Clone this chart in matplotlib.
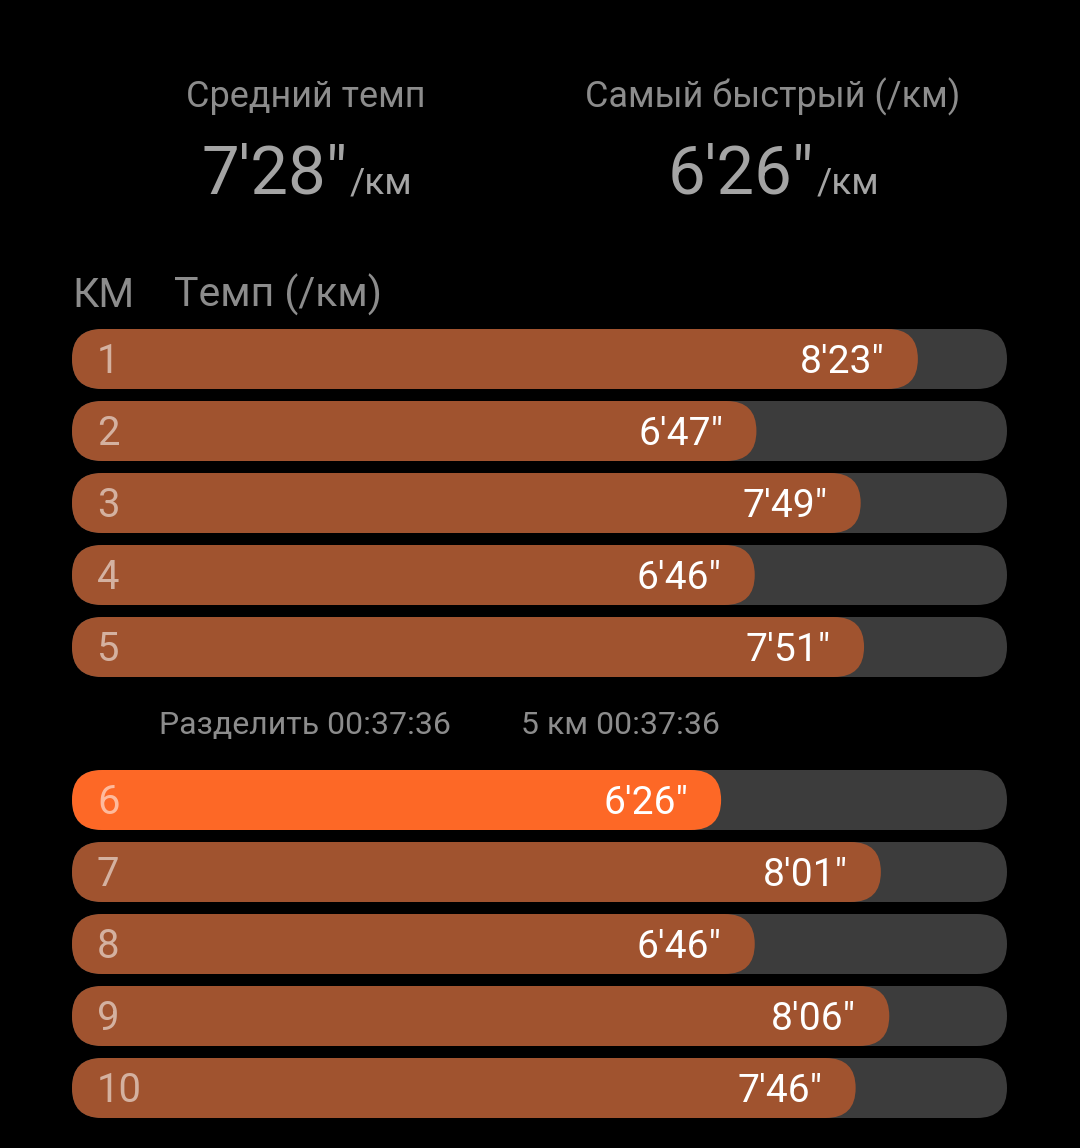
import matplotlib
matplotlib.use("Agg")
import matplotlib.pyplot as plt
from matplotlib.patches import FancyBboxPatch

plt.rcParams['font.family'] = ['Roboto', 'DejaVu Sans']

# Data
km_labels = ["1", "2", "3", "4", "5", "6", "7", "8", "9", "10"]
pace_text = ["8'23\"", "6'47\"", "7'49\"", "6'46\"", "7'51\"",
             "6'26\"", "8'01\"", "6'46\"", "8'06\"", "7'46\""]
pace_sec = [503, 407, 469, 406, 471, 386, 481, 406, 486, 466]
track_max = 556  # full grey track length, seconds
fastest_idx = 5

avg_pace = "7'28\""
best_pace = "6'26\""
split_left = "Разделить 00:37:36"
split_right = "5 км 00:37:36"

BG = "#000000"
TRACK = "#3c3c3c"
BAR = "#a0532f"
BAR_HI = "#fd6826"
GREY = "#8c8c8c"

W, H, DPI = 1080, 1148, 100
fig = plt.figure(figsize=(W / DPI, H / DPI), dpi=DPI, facecolor=BG)

# background axes in pixel coords for the header texts
bg = fig.add_axes([0, 0, 1, 1])
bg.set_xlim(0, W)
bg.set_ylim(H, 0)
bg.axis("off")
bg.set_facecolor(BG)

def pt(px):
    return px * 72 / DPI

# summary header
bg.text(306, 97, "Средний темп", color=GREY, fontsize=pt(36), ha="center", va="center")
bg.text(773, 97, "Самый быстрый (/км)", color=GREY, fontsize=pt(36), ha="center", va="center")
bg.text(201, 194, avg_pace, color="#a4a4a4", fontsize=pt(67), ha="left", va="baseline")
bg.text(350, 193, "/км", color="#a4a4a4", fontsize=pt(37), ha="left", va="baseline")
bg.text(668, 194, best_pace, color="#a4a4a4", fontsize=pt(67), ha="left", va="baseline")
bg.text(817, 193, "/км", color="#a4a4a4", fontsize=pt(37), ha="left", va="baseline")

# column headers
bg.text(72, 307, "КМ", color=GREY, fontsize=pt(41), ha="left", va="baseline")
bg.text(174, 307, "Темп (/км)", color=GREY, fontsize=pt(41), ha="left", va="baseline")

# split line
bg.text(159, 734, split_left, color=GREY, fontsize=pt(32), ha="left", va="baseline")
bg.text(521, 734, split_right, color=GREY, fontsize=pt(32), ha="left", va="baseline")

# bar axes: x in seconds, y in rows (72 px per row)
left_px, right_px = 72, 1007
top_px, bot_px = 329, 1118
ax = fig.add_axes([left_px / W, 1 - bot_px / H, (right_px - left_px) / W, (bot_px - top_px) / H])
ax.axis("off")
ax.patch.set_alpha(0)

row_px = 72.0
bar_h = 60 / row_px
gap_rows = (153 - 72) / row_px
ypos = [i if i < 5 else i + gap_rows for i in range(len(pace_sec))]
ax.set_xlim(0, track_max)
ax.set_ylim(ypos[-1] + bar_h / 2, -bar_h / 2)

px_per_sec = (right_px - left_px) / track_max
radius = 30 / px_per_sec           # rounding in x units
aspect = (30 / row_px) / radius    # y units per x unit

def rounded(x0, y, w, color):
    p = FancyBboxPatch((x0, y - bar_h / 2), w, bar_h,
                       boxstyle=f"round,pad=0,rounding_size={radius}",
                       mutation_aspect=aspect, facecolor=color, edgecolor="none")
    ax.add_patch(p)

for i, (y, sec) in enumerate(zip(ypos, pace_sec)):
    rounded(0, y, track_max, TRACK)
    color = BAR_HI if i == fastest_idx else BAR
    rounded(0, y, sec, color)
    ax.annotate(km_labels[i], xy=(0, y), xytext=(25, -14), textcoords="offset pixels",
                color="white", alpha=0.55, fontsize=pt(40), ha="left", va="baseline")
    ax.annotate(pace_text[i], xy=(sec, y), xytext=(-33, -14), textcoords="offset pixels",
                color="white", fontsize=pt(39), ha="right", va="baseline")

fig.savefig("out.png", dpi=DPI, facecolor=BG)
